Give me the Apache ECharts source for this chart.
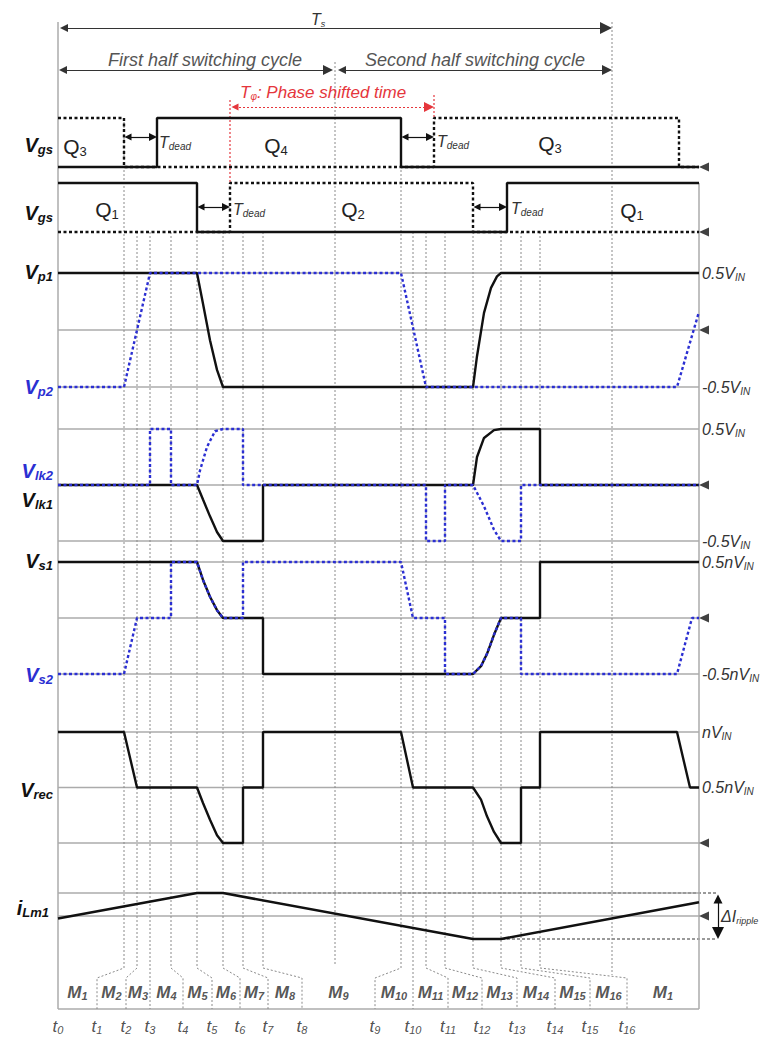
<!DOCTYPE html>
<html>
<head>
<meta charset="utf-8">
<title>Phase-shifted full bridge – key waveforms</title>
<script src="https://cdn.jsdelivr.net/npm/echarts@6.0.0/dist/echarts.min.js"></script>
<style>
  html, body { margin: 0; padding: 0; background: #fff; }
  #chart { width: 768px; height: 1039px; }
</style>
</head>
<body>
<div id="chart"></div>
<script>
// ---------- time base (arbitrary units, one switching period Ts = 554) ----------
const Ts = 554;
const halfTs = 277;
const windowEnd = 641;   // last instant drawn
const axisEnd = 672;     // room on the right for the ripple annotation

// switching instants t1 ... t16
const eventTimes = [66, 79, 92, 113, 139, 165, 185, 205, 343, 355, 368, 387, 415, 443, 463, 482];
// interval boundaries under the mode row (t0 ... t16, then window end)
const modeBounds = [0, 39, 68, 92, 125, 154, 182, 210, 244, 317, 355, 390, 424, 459, 497, 532, 569, 641];
const boundLabels = ['t_{0}', 't_{1}', 't_{2}', 't_{3}', 't_{4}', 't_{5}', 't_{6}', 't_{7}', 't_{8}',
                     't_{9}', 't_{10}', 't_{11}', 't_{12}', 't_{13}', 't_{14}', 't_{15}', 't_{16}'];
const modeLabels = ['M_{1}', 'M_{2}', 'M_{3}', 'M_{4}', 'M_{5}', 'M_{6}', 'M_{7}', 'M_{8}', 'M_{9}',
                    'M_{10}', 'M_{11}', 'M_{12}', 'M_{13}', 'M_{14}', 'M_{15}', 'M_{16}', 'M_{1}'];

// ---------- gate signals (1 = on) ----------
const vgsQ4 = [[0, 0], [99, 0], [99, 1], [343, 1], [343, 0], [641, 0]];
const vgsQ3 = [[0, 1], [66, 1], [66, 0], [376, 0], [376, 1], [621, 1], [621, 0], [641, 0]];
const vgsQ1 = [[0, 1], [139, 1], [139, 0], [449, 0], [449, 1], [641, 1]];
const vgsQ2 = [[0, 0], [172, 0], [172, 1], [415, 1], [415, 0], [641, 0]];
const deadIntervals = [[66, 99], [139, 172], [343, 376], [415, 449]];
const phaseShift = [172, 376];

// ---------- primary voltages (units of V_IN) ----------
const vp1 = [[0, 0.5], [139, 0.5], [145, 0.23], [152, -0.09], [159, -0.35], [165, -0.5], [415, -0.5],
             [419, -0.23], [426, 0.15], [433, 0.37], [439, 0.47], [443, 0.5], [641, 0.5]];
const vp2 = [[0, -0.5], [66, -0.5], [92, 0.5], [343, 0.5], [368, -0.5], [619, -0.5], [641, 0.16]];

// ---------- leakage inductor voltages (units of V_IN) ----------
const vlk1 = [[0, 0], [139, 0], [145, -0.13], [152, -0.28], [159, -0.42], [165, -0.5], [205, -0.5], [205, 0],
              [415, 0], [419, 0.25], [426, 0.42], [436, 0.49], [443, 0.5], [482, 0.5], [482, 0], [641, 0]];
const vlk2 = [[0, 0], [92, 0], [92, 0.5], [113, 0.5], [113, 0], [139, 0], [142, 0.13], [149, 0.34], [157, 0.48],
              [165, 0.5], [185, 0.5], [185, 0], [368, 0], [368, -0.5], [387, -0.5], [387, 0], [415, 0],
              [426, -0.19], [436, -0.4], [443, -0.5], [463, -0.5], [463, 0], [641, 0]];

// ---------- secondary voltages (units of nV_IN) ----------
const vs1 = [[0, 0.5], [139, 0.5], [145, 0.34], [152, 0.19], [159, 0.07], [165, 0], [205, 0], [205, -0.5],
             [415, -0.5], [423, -0.43], [429, -0.32], [436, -0.15], [443, 0], [482, 0], [482, 0.5], [641, 0.5]];
const vs2 = [[0, -0.5], [66, -0.5], [79, 0], [113, 0], [113, 0.5], [139, 0.5], [145, 0.34], [152, 0.19],
             [159, 0.07], [165, 0], [185, 0], [185, 0.5], [343, 0.5], [355, 0], [387, 0], [387, -0.5],
             [415, -0.5], [423, -0.43], [429, -0.32], [436, -0.15], [443, 0], [463, 0], [463, -0.5],
             [619, -0.5], [634, 0], [641, 0]];

// ---------- rectified voltage (units of nV_IN) ----------
const vrec = [[0, 1], [66, 1], [79, 0.5], [139, 0.5], [145, 0.36], [152, 0.21], [159, 0.07], [165, 0], [185, 0],
              [185, 0.5], [205, 0.5], [205, 1], [343, 1], [355, 0.5], [415, 0.5], [423, 0.39], [429, 0.24],
              [436, 0.1], [443, 0], [463, 0], [463, 0.5], [482, 0.5], [482, 1], [619, 1], [632, 0.5], [641, 0.5]];

// ---------- magnetizing current (units of ΔI_ripple / 2) ----------
const ilm = [[0, -0.11], [139, 1], [165, 1], [415, -1], [443, -1], [641, 0.6]];
const ilmPeakGuideStart = [[185, 1], [414, -1]];

// level texts on the right-hand side
const vpLevelText = { '0.5': '0.5V_{IN}', '-0.5': '-0.5V_{IN}' };
const vlkLevelText = { '0.5': '0.5V_{IN}', '-0.5': '-0.5V_{IN}' };
const vsLevelText = { '0.5': '0.5nV_{IN}', '-0.5': '-0.5nV_{IN}' };
const vrecLevelText = { '1': 'nV_{IN}', '0.5': '0.5nV_{IN}' };

// ---------- styling ----------
const FONT = '"Liberation Sans", Arial, Helvetica, sans-serif';
const BLACK = '#111111';
const BLUE = '#2b2fd2';
const RED = '#e5363c';
const GRID_GRAY = '#ababab';
const GUIDE_GRAY = '#8a8a8a';

const SOLID = { color: BLACK, width: 2.4, type: 'solid' };
const DOT_BLACK = { color: BLACK, width: 2.4, type: [3, 2.5] };
const DOT_BLUE = { color: BLUE, width: 2.4, type: [3, 2.5] };

// "X_{sub}Y" -> rich text tokens
function rt(s) {
  let out = '', last = 0, m;
  const re = /_\{([^}]*)\}/g;
  while ((m = re.exec(s))) {
    if (m.index > last) out += '{m|' + s.slice(last, m.index) + '}';
    out += '{s|' + m[1] + '}';
    last = re.lastIndex;
  }
  if (last < s.length) out += '{m|' + s.slice(last) + '}';
  return out;
}
// main + subscript styles; drop = how far the subscript centre sits below the main centre
function richStyles(size, subSize, color, weight, italic, drop) {
  const common = { fontFamily: FONT, fontWeight: weight, fontStyle: italic ? 'italic' : 'normal', fill: color, color: color };
  const line = size + 2;
  return {
    m: Object.assign({ fontSize: size, lineHeight: line }, common),
    s: Object.assign({ fontSize: subSize, lineHeight: Math.max(2, line - 2 * drop), verticalAlign: 'bottom' }, common)
  };
}

// ---------- grids: one per waveform panel plus a full-height frame ----------
const gridBoxes = [[118, 49], [183, 49], [273, 114], [429, 112], [562, 112], [732, 111], [893, 46], [0, 1039]];
const FRAME = 7;
const grid = gridBoxes.map(([top, height]) => ({
  left: 58, right: 38, top: top, height: height, containLabel: false, outerBoundsMode: 'none'
}));
const xAxis = gridBoxes.map((_, i) => ({ gridIndex: i, type: 'value', min: 0, max: axisEnd, show: false }));

const levelRich = richStyles(16, 10, '#333', 'normal', true, 5);
function hiddenY(i, min, max) { return { gridIndex: i, type: 'value', min, max, show: false }; }
function levelY(i, min, max, texts) {
  return {
    gridIndex: i, type: 'value', min, max, interval: 0.5, position: 'right',
    axisLine: { show: false }, axisTick: { show: false }, splitLine: { show: false },
    axisLabel: {
      show: true, margin: -28, align: 'left', hideOverlap: false,
      formatter: v => rt(texts[String(v)] || ''), rich: levelRich
    }
  };
}
const yAxis = [
  hiddenY(0, 0, 1), hiddenY(1, 0, 1),
  levelY(2, -0.5, 0.5, vpLevelText),
  levelY(3, -0.5, 0.5, vlkLevelText),
  levelY(4, -0.5, 0.5, vsLevelText),
  levelY(5, 0, 1, vrecLevelText),
  hiddenY(6, -1, 1),
  { gridIndex: FRAME, type: 'value', min: 0, max: 1039, inverse: true, show: false }
];

// ---------- series ----------
const series = [];
function wave(name, g, data, style) {
  series.push({
    type: 'line', name, xAxisIndex: g, yAxisIndex: g, data, symbol: 'none', showSymbol: false,
    clip: false, silent: true, z: 5, lineStyle: style, itemStyle: { color: style.color }
  });
}
function segs(g, list, style, extra) {
  series.push(Object.assign({
    type: 'lines', coordinateSystem: 'cartesian2d', xAxisIndex: g, yAxisIndex: g,
    polyline: true, clip: false, silent: true, z: 1, symbol: ['none', 'none'],
    lineStyle: Object.assign({ opacity: 1 }, style),
    data: list.map(c => ({ coords: c }))
  }, extra || {}));
}
function arrows(g, list, style, size) {
  series.push({
    type: 'lines', coordinateSystem: 'cartesian2d', xAxisIndex: g, yAxisIndex: g,
    polyline: false, clip: false, silent: true, z: 4,
    symbol: ['triangle', 'triangle'], symbolSize: size,
    lineStyle: Object.assign({ opacity: 1 }, style),
    data: list.map(c => ({ coords: c }))
  });
}

// horizontal reference levels of each panel
const panelLevels = [[], [], [-0.5, 0, 0.5], [-0.5, 0, 0.5], [-0.5, 0, 0.5], [0, 0.5, 1], [0, 1]];
panelLevels.forEach((lv, g) => {
  if (lv.length) segs(g, lv.map(v => [[0, v], [windowEnd, v]]), { color: GRID_GRAY, width: 1.5 });
});

// waveforms (dotted traces drawn over the solid ones)
wave('Q4', 0, vgsQ4, SOLID);
wave('Q3', 0, vgsQ3, DOT_BLACK);
wave('Q1', 1, vgsQ1, SOLID);
wave('Q2', 1, vgsQ2, DOT_BLACK);
wave('Vp1', 2, vp1, SOLID);
wave('Vp2', 2, vp2, DOT_BLUE);
wave('Vlk1', 3, vlk1, SOLID);
wave('Vlk2', 3, vlk2, DOT_BLUE);
wave('Vs1', 4, vs1, SOLID);
wave('Vs2', 4, vs2, DOT_BLUE);
wave('Vrec', 5, vrec, SOLID);
wave('iLm1', 6, ilm, { color: BLACK, width: 2.6, type: 'solid' });

// zero-level markers at the right edge of each panel
const markerT = 646;
for (let g = 0; g <= 6; g++) {
  series.push({
    type: 'scatter', xAxisIndex: g, yAxisIndex: g, data: [[markerT, 0]], clip: false, silent: true,
    symbol: 'triangle', symbolRotate: 90, symbolSize: [9, 10], itemStyle: { color: BLACK }, z: 6
  });
}

// magnetizing-current peak guides and ripple arrow
const rippleT = 660;
segs(6, ilmPeakGuideStart.map(([t, v]) => [[t, v], [rippleT - 1, v]]), { color: '#9a9a9a', width: 2.2, type: [3, 2] });
arrows(6, [[[rippleT, 1 - 6 / 23], [rippleT, -1 + 6 / 23]]], { color: BLACK, width: 1.2 }, [9, 12]);

// ---------- frame decorations (x: time, y: layout rows from the top) ----------
const L = {
  frameTop: 22, gateTop: 118, row2Top: 183, lowerTop: 232,
  guideEnd: 968, boxTop: 978, boxBottom: 1009,
  tsY: 28, halfY: 70, phaseY: 107, deadY: [137, 207, 137, 207],
  halfGuideTop: 62, halfGuideEnd: 965, tsGuideEnd: 975,
  modeTextY: 992, boundTextY: 1026
};

// panel borders and base line of the mode row
segs(FRAME, [
  [[0, L.frameTop], [0, L.boxBottom]],
  [[windowEnd, L.row2Top], [windowEnd, L.boxBottom]],
  [[0, L.boxBottom], [windowEnd, L.boxBottom]]
], { color: GRID_GRAY, width: 1.5 });

// switching-instant guides, bent down to their interval boundaries
segs(FRAME, eventTimes.map((t, i) => {
  const top = (i === 0 || i === 8) ? L.gateTop : L.lowerTop;
  const b = modeBounds[i + 1];
  return [[t, top], [t, L.guideEnd], [b, L.boxTop], [b, L.boxBottom]];
}).concat([
  [[halfTs, L.halfGuideTop], [halfTs, L.halfGuideEnd]],
  [[Ts, L.frameTop], [Ts, L.tsGuideEnd]]
]), { color: GUIDE_GRAY, width: 1, type: [2, 2] });

// period and half-period arrows
arrows(FRAME, [
  [[6, L.tsY], [Ts - 6, L.tsY]]
], { color: '#333', width: 1.1 }, [8, 12]);
arrows(FRAME, [
  [[5, L.halfY], [halfTs - 7, L.halfY]],
  [[halfTs + 7, L.halfY], [Ts - 5, L.halfY]]
], { color: '#333', width: 1 }, [8, 10]);

// dead-time arrows
arrows(FRAME, deadIntervals.map(([a, b], i) => [[a + 4, L.deadY[i]], [b - 4, L.deadY[i]]]),
  { color: BLACK, width: 1.2 }, [7, 8]);

// phase shift
segs(FRAME, [
  [[phaseShift[0], 100], [phaseShift[0], L.row2Top]],
  [[phaseShift[1], 95], [phaseShift[1], L.gateTop]]
], { color: RED, width: 1.2, type: [2, 2] }, { z: 2 });
arrows(FRAME, [[[phaseShift[0] + 5, L.phaseY], [phaseShift[1] - 5, L.phaseY]]],
  { color: RED, width: 1, type: [2, 2] }, [7, 10]);

// mode labels and interval boundary labels
const modeRich = richStyles(17, 11, '#2a2a2a', 'bold', true, 5);
const boundRich = richStyles(17, 11, '#222', 'normal', true, 5);
series.push({
  type: 'scatter', xAxisIndex: FRAME, yAxisIndex: FRAME, clip: false, silent: true,
  symbolSize: 1, itemStyle: { color: 'rgba(0,0,0,0)' }, z: 6,
  data: modeLabels.map((m, i) => ({ value: [(modeBounds[i] + modeBounds[i + 1]) / 2, L.modeTextY], name: m })),
  label: { show: true, position: 'inside', formatter: p => rt(p.name), rich: modeRich }
});
series.push({
  type: 'scatter', xAxisIndex: FRAME, yAxisIndex: FRAME, clip: false, silent: true,
  symbolSize: 1, itemStyle: { color: 'rgba(0,0,0,0)' }, z: 6,
  data: boundLabels.map((b, i) => ({ value: [modeBounds[i], L.boundTextY], name: b })),
  label: { show: true, position: 'inside', formatter: p => rt(p.name), rich: boundRich }
});

// ---------- free text ----------
const sideRich = c => richStyles(20, 13, c, 'bold', true, 7);
const qRich = richStyles(21, 13, '#222', 'normal', false, 5);
const deadRich = richStyles(16, 10, '#333', 'normal', true, 5);
const texts = [
  // signal names
  { x: 53, y: 145, t: 'V_{gs}', rich: sideRich(BLACK), align: 'right' },
  { x: 53, y: 213, t: 'V_{gs}', rich: sideRich(BLACK), align: 'right' },
  { x: 53, y: 272, t: 'V_{p1}', rich: sideRich(BLACK), align: 'right' },
  { x: 53, y: 387, t: 'V_{p2}', rich: sideRich(BLUE), align: 'right' },
  { x: 53, y: 471, t: 'V_{lk2}', rich: sideRich(BLUE), align: 'right' },
  { x: 53, y: 500, t: 'V_{lk1}', rich: sideRich(BLACK), align: 'right' },
  { x: 53, y: 561, t: 'V_{s1}', rich: sideRich(BLACK), align: 'right' },
  { x: 53, y: 675, t: 'V_{s2}', rich: sideRich(BLUE), align: 'right' },
  { x: 53, y: 790, t: 'V_{rec}', rich: sideRich(BLACK), align: 'right' },
  { x: 49, y: 908, t: 'i_{Lm1}', rich: sideRich(BLACK), align: 'right' },
  // switch names
  { x: 75, y: 146, t: 'Q_{3}', rich: qRich, align: 'center' },
  { x: 276, y: 145, t: 'Q_{4}', rich: qRich, align: 'center' },
  { x: 550, y: 143, t: 'Q_{3}', rich: qRich, align: 'center' },
  { x: 107, y: 209, t: 'Q_{1}', rich: qRich, align: 'center' },
  { x: 353, y: 209, t: 'Q_{2}', rich: qRich, align: 'center' },
  { x: 632, y: 210, t: 'Q_{1}', rich: qRich, align: 'center' },
  // dead time
  { x: 159, y: 142, t: 'T_{dead}', rich: deadRich, align: 'left' },
  { x: 233, y: 209, t: 'T_{dead}', rich: deadRich, align: 'left' },
  { x: 437, y: 141, t: 'T_{dead}', rich: deadRich, align: 'left' },
  { x: 511, y: 208, t: 'T_{dead}', rich: deadRich, align: 'left' },
  // period annotations
  { x: 311, y: 19, t: 'T_{s}', rich: richStyles(16, 9, '#333', 'normal', true, 4), align: 'left' },
  { x: 205, y: 60, t: 'First half switching cycle', rich: richStyles(18, 10, '#555', 'normal', true, 4), align: 'center' },
  { x: 475, y: 60, t: 'Second half switching cycle', rich: richStyles(18, 10, '#555', 'normal', true, 4), align: 'center' },
  { x: 240, y: 92, t: 'T_{φ}: Phase shifted time', rich: richStyles(17, 10, RED, 'normal', true, 4), align: 'left' },
  { x: 721, y: 916, t: 'ΔI_{ripple}', rich: richStyles(16, 9, '#333', 'normal', true, 4), align: 'left' }
];
const graphic = texts.map(o => ({
  type: 'text', x: o.x, y: o.y, silent: true, z: 10,
  style: { text: rt(o.t), rich: o.rich, align: o.align, verticalAlign: 'middle' }
}));

const chart = echarts.init(document.getElementById('chart'), null, { renderer: 'svg', width: 768, height: 1039 });
chart.setOption({
  animation: false,
  backgroundColor: '#ffffff',
  textStyle: { fontFamily: FONT },
  grid, xAxis, yAxis, series, graphic
});
</script>
</body>
</html>
